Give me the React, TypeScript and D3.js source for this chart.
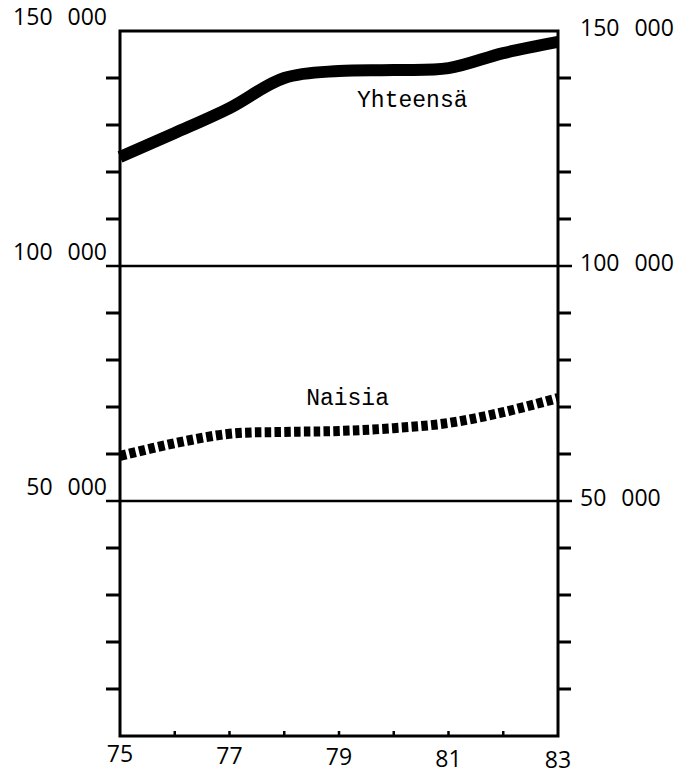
import React from "react";
import * as d3 from "d3";

const years = [75, 76, 77, 78, 79, 80, 81, 82, 83];
const yhteensa = [123200, 128300, 133600, 140000, 141500, 141700, 142100, 145300, 147700];
const naisia = [59600, 62300, 64300, 64700, 64900, 65500, 66600, 68900, 71900];
const yearLabels = [75, 77, 79, 81, 83];
const gridValues = [50000, 100000];
const minorTicks = [10000, 20000, 30000, 40000, 60000, 70000, 80000, 90000, 110000, 120000, 130000, 140000];
const leftLabels = [
  { v: 150000, t: "150 000" },
  { v: 100000, t: "100 000" },
  { v: 50000, t: "50 000" },
];
const rightLabels = leftLabels;
const seriesLabels = [
  { name: "Yhteensä", year: 79.33, value: 133900 },
  { name: "Naisia", year: 78.4, value: 70400 },
];

const W = 688;
const H = 777;
const L = 120;
const R = 558;
const T = 31;
const B = 736;

export default function App() {
  const x = d3.scaleLinear().domain([75, 83]).range([L, R]);
  const y = d3.scaleLinear().domain([0, 150000]).range([B, T]);
  const line = d3
    .line<number>()
    .x((_, i) => x(years[i]))
    .y((d) => y(d))
    .curve(d3.curveCatmullRom.alpha(0.5));
  const numFont = "'Open Sans', 'DejaVu Sans', sans-serif";
  const monoFont = "'Liberation Mono', 'DejaVu Sans Mono', monospace";
  return (
    <svg
      width={W}
      height={H}
      viewBox={`0 0 ${W} ${H}`}
      style={{ position: "absolute", left: 0, top: 0, background: "#fff" }}
    >
      <rect x={L} y={T} width={R - L} height={B - T} fill="none" stroke="#000" strokeWidth={3} />
      {gridValues.map((v) => (
        <line key={"g" + v} x1={L - 14} x2={R + 14} y1={y(v)} y2={y(v)} stroke="#000" strokeWidth={2.5} />
      ))}
      {minorTicks.map((v) => (
        <g key={"m" + v}>
          <line x1={L - 14} x2={L} y1={y(v)} y2={y(v)} stroke="#000" strokeWidth={3} />
          <line x1={R} x2={R + 13} y1={y(v)} y2={y(v)} stroke="#000" strokeWidth={3} />
        </g>
      ))}
      {years.slice(1, -1).map((yr) => (
        <line key={"xt" + yr} x1={x(yr)} x2={x(yr)} y1={B} y2={B - 5} stroke="#000" strokeWidth={2.5} />
      ))}
      <path d={line(yhteensa) || ""} fill="none" stroke="#000" strokeWidth={12} strokeLinecap="butt" />
      <path
        d={line(naisia) || ""}
        fill="none"
        stroke="#000"
        strokeWidth={10}
        strokeDasharray="6.5 3.3"
        strokeLinecap="butt"
      />
      {leftLabels.map((d) => (
        <text
          key={"l" + d.v}
          x={107}
          y={y(d.v) - 6}
          textAnchor="end"
          fontFamily={numFont}
          fontSize={23}
          wordSpacing={9}
          fill="#000"
        >
          {d.t}
        </text>
      ))}
      {rightLabels.map((d) => (
        <text
          key={"r" + d.v}
          x={580}
          y={y(d.v) + 5}
          textAnchor="start"
          fontFamily={numFont}
          fontSize={23}
          wordSpacing={9}
          fill="#000"
        >
          {d.t}
        </text>
      ))}
      {yearLabels.map((yr) => (
        <text
          key={"x" + yr}
          x={x(yr)}
          y={762 + ((x(yr) - L) / (R - L)) * 6}
          textAnchor="middle"
          fontFamily={numFont}
          fontSize={23}
          fill="#000"
        >
          {yr}
        </text>
      ))}
      {seriesLabels.map((s) => (
        <text
          key={s.name}
          x={x(s.year)}
          y={y(s.value)}
          fontFamily={monoFont}
          fontSize={23}
          fill="#000"
        >
          {s.name}
        </text>
      ))}
    </svg>
  );
}
